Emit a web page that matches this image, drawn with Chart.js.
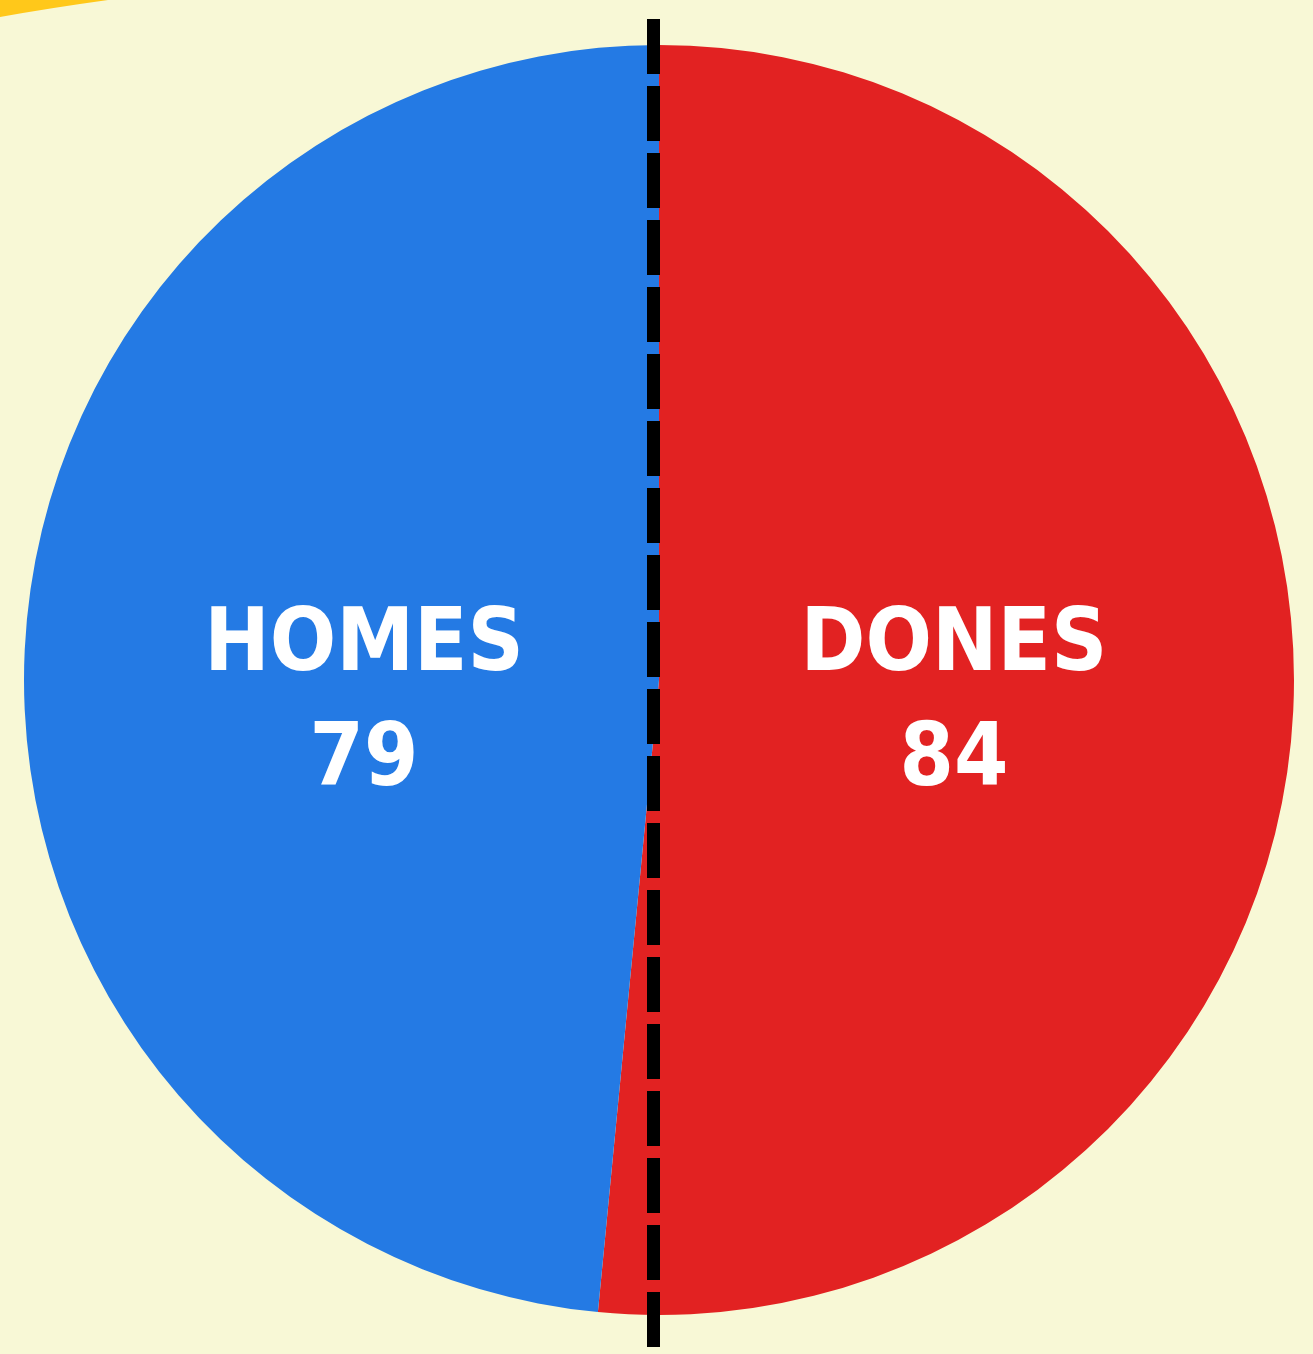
<!DOCTYPE html>
<html>
<head>
<meta charset="utf-8">
<script src="https://cdn.jsdelivr.net/npm/chart.js@4"></script>
<style>
  html, body { margin: 0; padding: 0; background: #f8f8d6; overflow: hidden; }
  #pie_Votes { display: block; }
</style>
</head>
<body>
<canvas id="pie_Votes" width="1313" height="1354"></canvas>
<script>
const labels_Votes = ["DONES", "HOMES"];
const values_Votes = [84, 79];
const colors_Votes = ["rgb(226,34,34)", "rgb(36,122,228)"];

// yellow corner piece + dashed split line
const decorPlugin = {
    id: "decor",
    beforeDraw(chart) {
        const c = chart.ctx;
        c.save();
        c.fillStyle = "rgb(255,200,26)";
        c.beginPath();
        c.moveTo(0, 0);
        c.lineTo(108, 0);
        c.quadraticCurveTo(50, 8, 0, 17);
        c.closePath();
        c.fill();
        c.restore();
    },
    afterDatasetsDraw(chart) {
        const c = chart.ctx;
        const meta = chart.getDatasetMeta(0);
        c.save();
        meta.data.forEach((arc, i) => {
            const mid = (arc.startAngle + arc.endAngle) / 2;
            const r = arc.outerRadius * 0.465;
            const x = arc.x + r * Math.cos(mid);
            const y = arc.y + 24;
            c.fillStyle = "#ffffff";
            c.textAlign = "center";
            c.textBaseline = "middle";
            c.font = "bold 87px 'DejaVu Sans Condensed', 'DejaVu Sans', sans-serif";
            c.fillText(labels_Votes[i], x, y - 57);
            c.fillText(String(values_Votes[i]), x, y + 58);
        });
        c.strokeStyle = "#000000";
        c.lineWidth = 13;
        c.setLineDash([55, 12]);
        c.beginPath();
        c.moveTo(653.5, 19);
        c.lineTo(653.5, 1354);
        c.stroke();
        c.restore();
    }
};

const config_Votes = {
    type: "pie",
    data: {
        labels: labels_Votes,
        datasets: [{
            data: values_Votes,
            backgroundColor: colors_Votes,
            borderWidth: 0
        }]
    },
    options: {
        responsive: false,
        animation: false,
        devicePixelRatio: 1,
        layout: { padding: { left: 22, right: 17, top: 45, bottom: 39 } },
        plugins: {
            legend: { display: false },
            tooltip: { enabled: false },
            title: { display: false }
        }
    },
    plugins: [decorPlugin]
};

const ctx_Votes = document.getElementById("pie_Votes").getContext("2d");
const myChart_Votes = new Chart(ctx_Votes, config_Votes);
</script>
</body>
</html>
